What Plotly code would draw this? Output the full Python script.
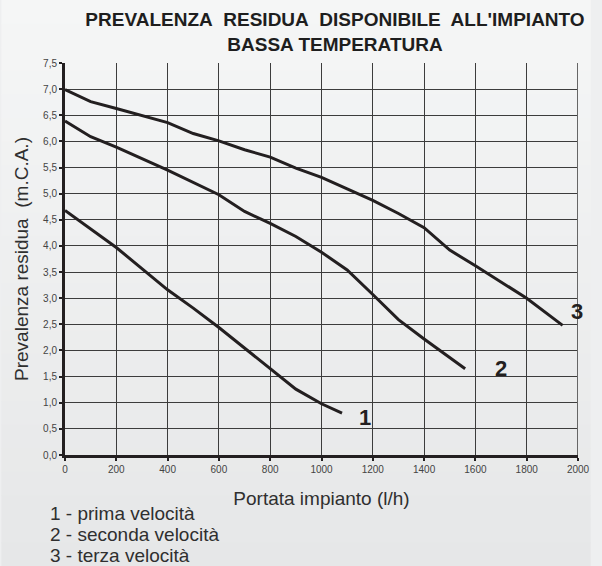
import plotly.graph_objects as go

flow_1 = [0, 200, 400, 500, 600, 800, 900, 1000, 1080]
head_1 = [4.68, 3.97, 3.16, 2.81, 2.44, 1.66, 1.26, 0.98, 0.80]

flow_2 = [0, 100, 200, 400, 600, 700, 800, 900, 1000, 1100, 1200, 1300, 1400, 1560]
head_2 = [6.39, 6.09, 5.89, 5.45, 4.98, 4.66, 4.43, 4.18, 3.88, 3.54, 3.07, 2.59, 2.22, 1.65]

flow_3 = [0, 100, 200, 400, 500, 600, 700, 800, 900, 1000, 1100, 1200, 1300, 1400, 1500, 1600, 1800, 1940]
head_3 = [6.99, 6.76, 6.63, 6.36, 6.15, 6.01, 5.84, 5.70, 5.49, 5.31, 5.09, 4.87, 4.62, 4.35, 3.92, 3.62, 3.00, 2.48]

curve_labels = ["1", "2", "3"]
label_x = [1170, 1700, 1995]
label_y = [0.72, 1.65, 2.75]

y_ticks = [i * 0.5 for i in range(16)]
y_tick_text = [f"{v:.1f}".replace(".", ",") for v in y_ticks]
x_ticks = list(range(0, 2001, 200))

legend_lines = ["1 - prima velocità", "2 - seconda velocità", "3 - terza velocità"]

ink = "#231f20"
text_col = "#2f2f2f"

# plot area is 524x392 px, at (65, 63) in a 602x566 page
W, H, L, T, PW, PH = 602, 566, 65, 63, 524, 392

fig = go.Figure()

# soft vertical background gradient, light at top
bands = 24
top_rgb, bot_rgb = (245, 246, 246), (230, 231, 232)
for i in range(bands):
    f = i / (bands - 1)
    c = tuple(round(a + (b - a) * f) for a, b in zip(top_rgb, bot_rgb))
    y_hi = (T + PH - i * H / bands) / PH
    y_lo = (T + PH - (i + 1) * H / bands) / PH
    fig.add_shape(type="rect", xref="paper", yref="paper", x0=-L / PW, x1=(W - L) / PW,
                  y0=y_lo - 0.002, y1=y_hi, line_width=0, fillcolor=f"rgb{c}", layer="below")

for fx, hy in [(flow_1, head_1), (flow_2, head_2), (flow_3, head_3)]:
    fig.add_scatter(x=fx, y=hy, mode="lines", line=dict(color=ink, width=3), showlegend=False)

for t, lx, ly in zip(curve_labels, label_x, label_y):
    fig.add_annotation(x=lx, y=ly, text=f"<b>{t}</b>", showarrow=False,
                       font=dict(size=22, color=ink, family="Liberation Sans"))

for i, line in enumerate(legend_lines):
    fig.add_annotation(x=(48 - L) / PW, y=(T + PH - (513 + i * 21)) / PH,
                       xref="paper", yref="paper",
                       text=line, showarrow=False, xanchor="left", yanchor="middle",
                       font=dict(size=19, color=text_col, family="Liberation Sans"))

fig.update_layout(
    width=W, height=H,
    margin=dict(l=L, r=W - L - PW, t=T, b=H - T - PH),
    paper_bgcolor="#eeeff0",
    plot_bgcolor="rgba(0,0,0,0)",
    font=dict(family="Liberation Sans", color=text_col),
    title=dict(
        text="<b>PREVALENZA&nbsp; RESIDUA&nbsp; DISPONIBILE&nbsp; ALL'IMPIANTO<br>BASSA TEMPERATURA</b>",
        x=335 / W, xanchor="center", y=1 - 26 / H, yanchor="middle",
        font=dict(size=19, color="#1e1e1e", family="Liberation Sans"),
    ),
)
fig.update_xaxes(
    range=[0, 2000], tickvals=x_ticks, tickfont=dict(size=10, color="#444"),
    showgrid=True, gridcolor="#3c3c3c", gridwidth=1,
    showline=True, linecolor=ink, linewidth=3,
    ticks="outside", ticklen=3, tickwidth=2, tickcolor=ink,
    zeroline=False,
    title=dict(text="Portata impianto (l/h)", font=dict(size=19, color=text_col), standoff=18),
)
fig.update_yaxes(
    range=[0, 7.5], tickvals=y_ticks, ticktext=y_tick_text, tickfont=dict(size=10, color="#444"),
    showgrid=True, gridcolor="#3c3c3c", gridwidth=1,
    showline=True, linecolor=ink, linewidth=3,
    ticks="outside", ticklen=3, tickwidth=2, tickcolor=ink,
    zeroline=False,
    title=dict(text="Prevalenza residua&nbsp; (m.C.A.)", font=dict(size=19, color=text_col), standoff=10),
)
fig.add_shape(type="line", xref="x", yref="y", x0=2000, x1=2000, y0=0, y1=7.5,
              line=dict(color="#666", width=2))
fig.write_html("out.html", config={"displayModeBar": False},
               post_script="document.body.style.margin='0';")
